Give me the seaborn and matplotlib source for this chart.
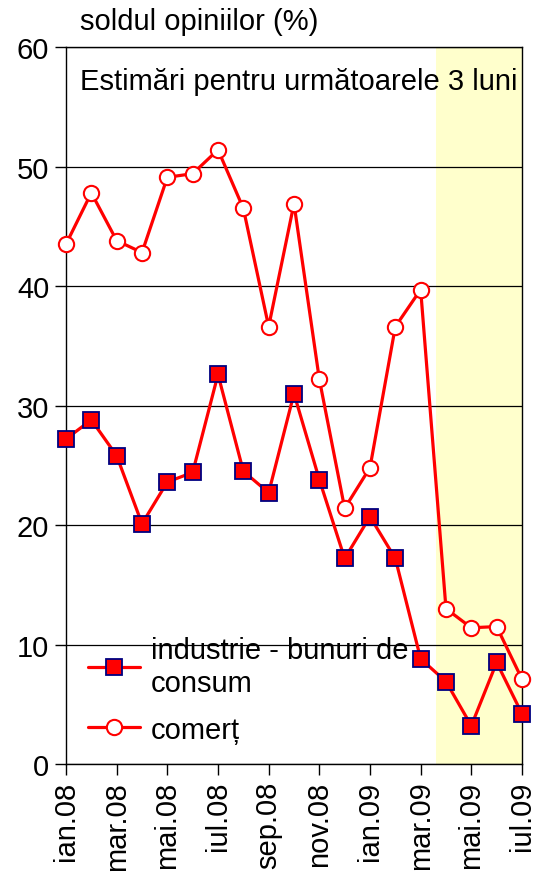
import matplotlib
matplotlib.use("Agg")
import matplotlib.pyplot as plt
import seaborn as sns
import pandas as pd

# data
months = ['ian.08', 'feb.08', 'mar.08', 'apr.08', 'mai.08', 'iun.08', 'iul.08',
          'aug.08', 'sep.08', 'oct.08', 'nov.08', 'dec.08', 'ian.09', 'feb.09',
          'mar.09', 'apr.09', 'mai.09', 'iun.09', 'iul.09']
industrie = [27.2, 28.8, 25.8, 20.1, 23.6, 24.4, 32.6, 24.5, 22.7, 31.0,
             23.8, 17.2, 20.7, 17.2, 8.8, 6.9, 3.2, 8.5, 4.2]
comert = [43.5, 47.8, 43.8, 42.8, 49.1, 49.4, 51.4, 46.5, 36.6, 46.9,
          32.2, 21.4, 24.8, 36.6, 39.7, 13.0, 11.4, 11.5, 7.1]

df = pd.DataFrame({'idx': range(len(months)), 'luna': months,
                   'industrie': industrie, 'comert': comert})

sns.set_style("white")
plt.rcParams['font.family'] = ['Liberation Sans', 'DejaVu Sans']
plt.rcParams['font.size'] = 21
plt.rcParams['text.color'] = 'black'
plt.rcParams['xtick.color'] = 'black'
plt.rcParams['ytick.color'] = 'black'

fig, ax = plt.subplots(figsize=(5.34, 8.78), dpi=100)
fig.subplots_adjust(left=0.1236, right=0.9775, bottom=0.1287, top=0.9453)

# shaded forecast area
ax.axvspan(14.6, 18, color='#FFFFCC', zorder=0, lw=0)

sns.lineplot(data=df, x='idx', y='industrie', ax=ax, color='red', lw=2.3,
             marker='s', markersize=11, markerfacecolor='red',
             markeredgecolor='#000080', markeredgewidth=1.3,
             label='industrie - bunuri de\nconsum', zorder=3, clip_on=False)
sns.lineplot(data=df, x='idx', y='comert', ax=ax, color='red', lw=2.3,
             marker='o', markersize=11, markerfacecolor='white',
             markeredgecolor='red', markeredgewidth=1.5,
             label='comerț', zorder=3, clip_on=False)

ax.set_xlim(0, 18)
ax.set_ylim(0, 60)
ax.set_yticks(range(0, 61, 10))
ax.set_xticks(range(0, 19, 2))
ax.set_xticklabels(months[::2], rotation=90)
ax.set_xlabel('')
ax.set_ylabel('')
ax.set_axisbelow(True)
ax.yaxis.grid(True, color='black', lw=0.9)
ax.tick_params(axis='both', direction='out', length=8, width=1, color='black',
               labelsize=21, labelcolor='black', pad=4)
ax.tick_params(left=True, bottom=True)
for s in ax.spines.values():
    s.set_color('black')
    s.set_linewidth(1)

fig.text(80 / 534, 1 - 22 / 878, 'soldul opiniilor (%)', fontsize=21, va='center')
ax.text(0.031, 0.9526, 'Estimări pentru următoarele 3 luni', transform=ax.transAxes,
        fontsize=21, va='center')

leg = ax.legend(loc='upper left', bbox_to_anchor=(0.048, 0.179), borderaxespad=0,
                borderpad=0, frameon=False, fontsize=21, handlelength=1.8,
                handletextpad=0.35, labelspacing=0.63)
for t in leg.get_texts():
    t.set_linespacing(1.25)

plt.savefig('out.png', dpi=100)
